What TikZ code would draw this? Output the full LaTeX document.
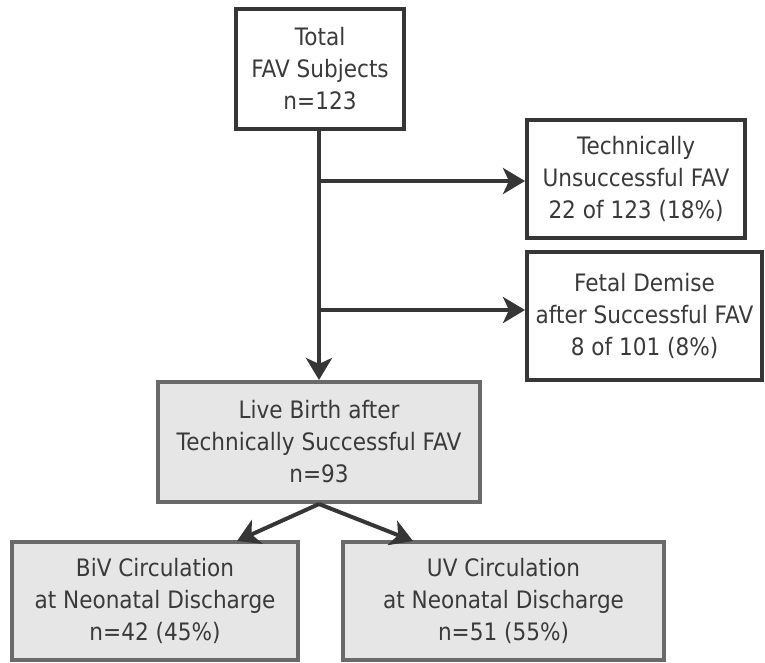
\documentclass[tikz,border=0pt]{standalone}
\usepackage{fontspec}
\setmainfont[FakeStretch=0.9]{DejaVu Sans}
\usetikzlibrary{arrows.meta,calc}
\definecolor{ink}{HTML}{363636}
\definecolor{txt}{HTML}{3A3A3A}
\definecolor{gborder}{HTML}{6A6A6A}
\definecolor{gfill}{HTML}{E6E6E6}
\begin{document}
\begin{tikzpicture}[x=1pt,y=-1pt,
  wbox/.style={draw=ink,line width=4pt,fill=white,align=center,text=txt,inner sep=0pt,
    font=\fontsize{24}{32}\selectfont},
  gbox/.style={draw=gborder,line width=4pt,fill=gfill,align=center,text=txt,inner sep=0pt,
    font=\fontsize{24}{32}\selectfont},
  conn/.style={draw=ink,line width=4pt},
  arr/.style={conn,-{Stealth[length=22pt,width=26pt,inset=6pt]}}]
\useasboundingbox (0,0) rectangle (765,662);
\node[wbox,minimum width=168pt,minimum height=120pt] (top) at (320,68.5) {Total\\FAV Subjects\\n=123};
\node[wbox,minimum width=218pt,minimum height=118pt] (tech) at (636,179) {Technically\\Unsuccessful FAV\\22 of 123 (18\%)};
\node[wbox,minimum width=235pt,minimum height=128pt] (fetal) at (644.5,316) {Fetal Demise\\after Successful FAV\\8 of 101 (8\%)};
\node[gbox,minimum width=322pt,minimum height=120pt] (live) at (319,442) {Live Birth after\\Technically Successful FAV\\n=93};
\node[gbox,minimum width=286pt,minimum height=118pt] (biv) at (155,601) {BiV Circulation\\at Neonatal Discharge\\n=42 (45\%)};
\node[gbox,minimum width=321pt,minimum height=118pt] (uv) at (503.5,601) {UV Circulation\\at Neonatal Discharge\\n=51 (55\%)};
\coordinate (b1) at (319,181);
\coordinate (b2) at (319,310);
\coordinate (t1) at (237,541);
\coordinate (t2) at (413,541);
\draw[arr] (top.south -| b1) -- (live.north -| b1);
\draw[arr] (b1) -- (b1 -| tech.west);
\draw[arr] (b2) -- (b2 -| fetal.west);
\draw[arr] (live.south -| b1) -- (t1);
\draw[arr] (live.south -| b1) -- (t2);
\end{tikzpicture}
\end{document}
